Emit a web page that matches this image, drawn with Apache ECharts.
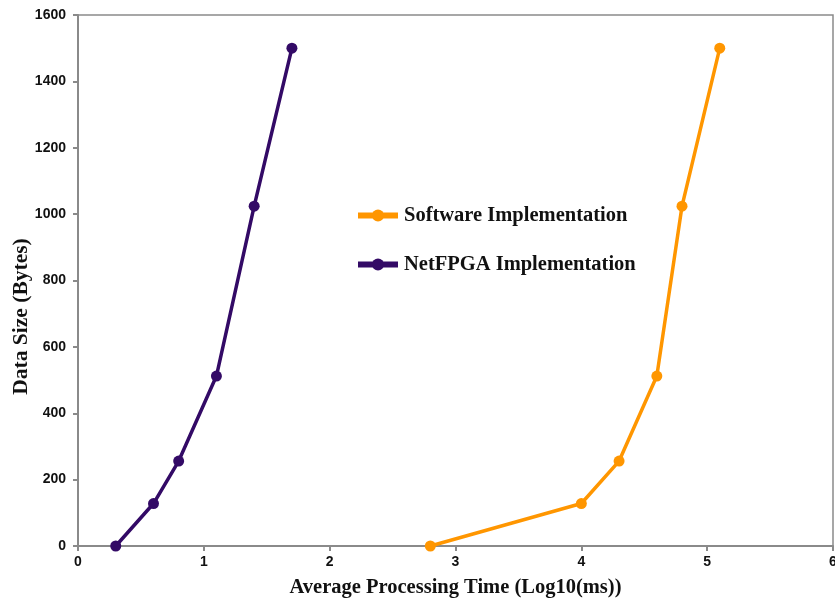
<!DOCTYPE html>
<html><head><meta charset="utf-8">
<script src="https://cdn.jsdelivr.net/npm/echarts@6/dist/echarts.min.js"></script>
<style>html,body{margin:0;padding:0;background:#fff}#c{width:835px;height:603px}</style>
</head><body><div id="c"></div>
<script>
const seriesNames = ['Software Implementation', 'NetFPGA Implementation'];
const softwareX = [2.8, 4.0, 4.3, 4.6, 4.8, 5.1];
const softwareY = [0, 128, 256, 512, 1024, 1500];
const netfpgaX = [0.3, 0.6, 0.8, 1.1, 1.4, 1.7];
const netfpgaY = [0, 128, 256, 512, 1024, 1500];
const xTicks = [0, 1, 2, 3, 4, 5, 6];
const yTicks = [0, 200, 400, 600, 800, 1000, 1200, 1400, 1600];

const chart = echarts.init(document.getElementById('c'));
const pair = (xs, ys) => xs.map((x, i) => [x, ys[i]]);
const axisLabelStyle = {color: '#111', fontFamily: 'Liberation Sans, Arial', fontWeight: 'bold', fontSize: 14};
const serif = 'Liberation Serif, Times New Roman';
chart.setOption({
  animation: false,
  backgroundColor: '#fff',
  grid: {left: 78, right: 2, top: 15, bottom: 57, show: true, borderColor: '#8a8a8a', borderWidth: 1.5,
         containLabel: false, outerBoundsMode: 'none'},
  legend: {
    orient: 'vertical', left: 350, top: 200, itemGap: 28, itemWidth: 40, itemHeight: 15,
    lineStyle: {width: 6},
    textStyle: {fontFamily: serif, fontWeight: 'bold', fontSize: 20.5, color: '#111', padding: [0, 0, 0, 1]},
    data: seriesNames
  },
  xAxis: {
    type: 'value', min: xTicks[0], max: xTicks[xTicks.length - 1], interval: 1,
    name: 'Average Processing Time (Log10(ms))', nameLocation: 'middle', nameGap: 31, nameMoveOverlap: false,
    nameTextStyle: {fontFamily: serif, fontWeight: 'bold', fontSize: 20.5, color: '#111'},
    axisLine: {lineStyle: {color: '#8a8a8a', width: 2}},
    axisTick: {show: true, length: 5, lineStyle: {color: '#8a8a8a', width: 2}},
    axisLabel: Object.assign({margin: 9, formatter: v => String(v)}, axisLabelStyle),
    splitLine: {show: false}
  },
  yAxis: {
    type: 'value', min: yTicks[0], max: yTicks[yTicks.length - 1], interval: 200,
    name: 'Data Size (Bytes)', nameLocation: 'middle', nameGap: 46, nameMoveOverlap: false,
    nameTextStyle: {fontFamily: serif, fontWeight: 'bold', fontSize: 21.5, color: '#111', padding: [0, 72, 0, 0]},
    axisLine: {show: true, lineStyle: {color: '#8a8a8a', width: 2}},
    axisTick: {show: true, length: 5, lineStyle: {color: '#8a8a8a', width: 2}},
    axisLabel: Object.assign({margin: 12, formatter: v => String(v)}, axisLabelStyle),
    splitLine: {show: false}
  },
  series: [
    {name: seriesNames[0], type: 'line', data: pair(softwareX, softwareY), symbol: 'circle', symbolSize: 11,
     itemStyle: {color: '#FF9600'}, lineStyle: {color: '#FF9600', width: 3.5}},
    {name: seriesNames[1], type: 'line', data: pair(netfpgaX, netfpgaY), symbol: 'circle', symbolSize: 11,
     itemStyle: {color: '#330A66'}, lineStyle: {color: '#330A66', width: 3.5}}
  ]
});
</script></body></html>
